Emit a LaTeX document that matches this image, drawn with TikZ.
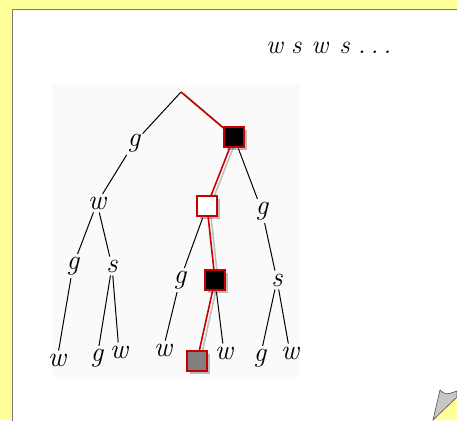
\documentclass[tikz,border=0pt]{standalone}
\usepackage{fontspec}
\usetikzlibrary{shadows}
\definecolor{pagebg}{RGB}{255,255,153}
\definecolor{pathred}{RGB}{200,0,0}
\definecolor{frame}{RGB}{120,120,110}
\definecolor{sketchbg}{RGB}{250,250,250}
\begin{document}
\begin{tikzpicture}[x=1pt,y=-1pt,
  lbl/.style={inner sep=0pt,font=\fontsize{28}{28}\selectfont\itshape},
  sq/.style={draw=pathred,line width=1.6pt,minimum size=20pt,inner sep=0pt,
    drop shadow={shadow xshift=2.5pt,shadow yshift=-2.5pt,fill=black,opacity=0.25}},
  blk/.style={sq,fill=black},
  wht/.style={sq,fill=white},
  gry/.style={sq,fill=gray},
  edge/.style={line width=1pt,shorten <=3pt,shorten >=3pt},
  hot/.style={pathred,line width=1.6pt},
  hotshade/.style={black!25,line width=1.6pt}]
\useasboundingbox (0,0) rectangle (457,420);
% page background and sheet
\fill[pagebg] (0,0) rectangle (457,420);
\filldraw[fill=white,draw=frame,line width=1pt] (12.5,9.5) rectangle (480,440);
% sketch area
\fill[sketchbg] (52,85) rectangle (300,377);

% sequence caption
\node[font=\fontsize{26}{26}\selectfont\itshape,anchor=base west,inner sep=0pt] (seq) at (266,53)
  {w\hspace{8pt}s\hspace{10pt}w\hspace{11pt}s\hspace{8pt}.\hspace{5pt}.\hspace{5pt}.};

% tree nodes
\coordinate (root) at (181,92);
\node[lbl] (g1) at (134,143) {g};
\node[lbl] (w1) at (97,203) {w};
\node[lbl] (g2) at (262,211) {g};
\node[lbl] (g3) at (73,266) {g};
\node[lbl] (s1) at (112,266) {s};
\node[lbl] (g4) at (180,280) {g};
\node[lbl] (s2) at (277,280) {s};
\node[lbl] (w2) at (57,360) {w};
\node[lbl] (g5) at (97,358) {g};
\node[lbl] (w3) at (119,352) {w};
\node[lbl] (w4) at (163,350) {w};
\node[lbl] (w5) at (224,353) {w};
\node[lbl] (g6) at (260,358) {g};
\node[lbl] (w6) at (290,353) {w};

% plain branches
\draw[edge,shorten <=0pt] (root) -- (g1);
\draw[edge] (g1) -- (w1);
\draw[edge] (w1) -- (g3);
\draw[edge] (w1) -- (s1);
\draw[edge] (g3) -- (w2);
\draw[edge] (s1) -- (g5);
\draw[edge] (s1) -- (w3);
\draw[edge] (g2) -- (s2);
\draw[edge] (s2) -- (g6);
\draw[edge] (s2) -- (w6);
\draw[edge] (g4) -- (w4);

% shading lines under the highlighted path
\coordinate (b1c) at (234,137);
\coordinate (q1c) at (207,206);
\coordinate (b2c) at (215,280);
\coordinate (q2c) at (197,361);
\draw[hotshade] ([shift={(2.5,1.5)}]root) -- ([shift={(2.5,1.5)}]b1c);
\draw[hotshade] ([shift={(3,1)}]b1c) -- ([shift={(3,1)}]q1c);
\draw[hotshade] ([shift={(3,1)}]q1c) -- ([shift={(3,1)}]b2c);
\draw[hotshade] ([shift={(3,1)}]b2c) -- ([shift={(3,1)}]q2c);

% highlighted path squares
\node[blk] (b1) at (b1c) {};
\node[wht] (q1) at (q1c) {};
\node[blk] (b2) at (b2c) {};
\node[gry] (q2) at (q2c) {};

\draw[edge,shorten <=1pt] (b1) -- (g2);
\draw[edge,shorten <=1pt] (q1) -- (g4);
\draw[edge,shorten <=1pt] (b2) -- (w5);

\draw[hot] (root) -- (b1);
\draw[hot] (b1) -- (q1);
\draw[hot] (q1) -- (b2);
\draw[hot] (b2) -- (q2);

% curled corner
\fill[pagebg] (433,420) -- (457,397) -- (457,420) -- cycle;
\filldraw[fill=black!22,draw=black!70,line width=0.6pt]
  (433,420) .. controls (436,405) .. (440,390)
  .. controls (446,395) .. (457,391) -- (457,397) -- cycle;
\end{tikzpicture}
\end{document}
